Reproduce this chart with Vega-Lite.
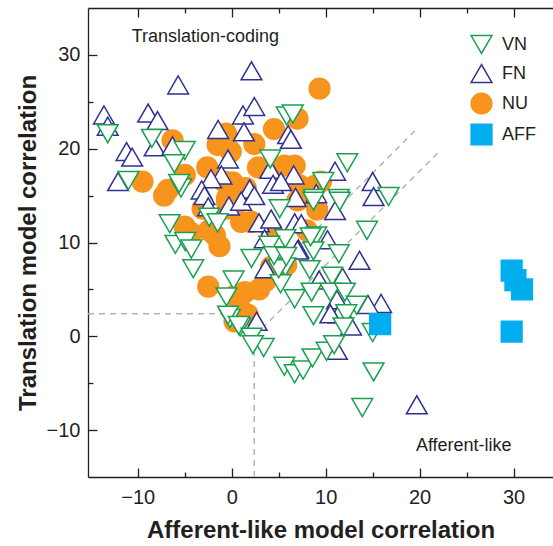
{
  "$schema": "https://vega.github.io/schema/vega-lite/v6.json",
  "autosize": "none",
  "padding": {"left": 88, "top": 8, "right": 0, "bottom": 69},
  "width": 465,
  "height": 469,
  "config": {"view": {"stroke": null}, "font": "Liberation Sans"},
  "datasets": {
    "guides": [
      {"x": -15.3, "y": 2.4, "x2": 2.4, "y2": 2.4},
      {"x": 2.4, "y": -15, "x2": 2.4, "y2": 2.4},
      {"x": 0, "y": 2.4, "x2": 19.8, "y2": 22.2},
      {"x": 2.4, "y": 0, "x2": 22.3, "y2": 19.9}
    ],
    "notes": [
      {"x": -2.8, "y": 31.9, "t": "Translation-coding"},
      {"x": 24.7, "y": -11.7, "t": "Afferent-like"}
    ],
    "pts": [
      {"s": "NU", "x": 9.35, "y": 26.4}, {"s": "NU", "x": 7.0, "y": 23.2}, {"s": "NU", "x": 4.5, "y": 22.1},
      {"s": "NU", "x": -6.3, "y": 20.9}, {"s": "NU", "x": -1.5, "y": 20.4}, {"s": "NU", "x": -0.1, "y": 19.7},
      {"s": "NU", "x": -0.6, "y": 21.6}, {"s": "NU", "x": 2.4, "y": 20.5}, {"s": "NU", "x": 2.8, "y": 18.0},
      {"s": "NU", "x": 5.6, "y": 18.2}, {"s": "NU", "x": 6.7, "y": 18.2}, {"s": "NU", "x": -2.6, "y": 18.0},
      {"s": "NU", "x": -9.5, "y": 16.5}, {"s": "NU", "x": -6.8, "y": 15.6}, {"s": "NU", "x": -5.0, "y": 17.2},
      {"s": "NU", "x": -0.8, "y": 16.5}, {"s": "NU", "x": 0.1, "y": 16.4}, {"s": "NU", "x": 1.5, "y": 15.8},
      {"s": "NU", "x": 7.2, "y": 16.1}, {"s": "NU", "x": 9.5, "y": 16.5}, {"s": "NU", "x": 8.8, "y": 16.0},
      {"s": "NU", "x": -0.5, "y": 14.7}, {"s": "NU", "x": -7.2, "y": 15.0}, {"s": "NU", "x": -3.1, "y": 13.6},
      {"s": "NU", "x": -5.0, "y": 11.7}, {"s": "NU", "x": -4.3, "y": 11.0}, {"s": "NU", "x": -1.8, "y": 10.8},
      {"s": "NU", "x": -1.3, "y": 9.6}, {"s": "NU", "x": -2.5, "y": 5.3}, {"s": "NU", "x": 0.3, "y": 4.3},
      {"s": "NU", "x": 1.4, "y": 4.7}, {"s": "NU", "x": 2.9, "y": 5.0}, {"s": "NU", "x": 3.6, "y": 5.9},
      {"s": "NU", "x": 1.0, "y": 2.8}, {"s": "NU", "x": 0.3, "y": 1.6}, {"s": "NU", "x": 1.7, "y": 2.3},
      {"s": "NU", "x": -0.4, "y": 13.6}, {"s": "NU", "x": 1.0, "y": 12.2}, {"s": "NU", "x": 2.1, "y": 12.2},
      {"s": "NU", "x": 0.3, "y": 14.9}, {"s": "NU", "x": 7.0, "y": 14.5}, {"s": "NU", "x": 4.2, "y": 7.4},
      {"s": "NU", "x": 9.1, "y": 13.5}, {"s": "NU", "x": 4.2, "y": 11.3}, {"s": "NU", "x": -2.4, "y": 11.3},
      {"s": "NU", "x": 5.8, "y": 7.6}, {"s": "NU", "x": 8.0, "y": 11.3}, {"s": "NU", "x": -0.5, "y": 14.3},
      {"s": "FN", "x": 2.1, "y": 28.3}, {"s": "FN", "x": -5.7, "y": 26.8}, {"s": "FN", "x": -13.6, "y": 23.6},
      {"s": "FN", "x": -13.2, "y": 22.4}, {"s": "FN", "x": -8.9, "y": 23.8}, {"s": "FN", "x": -7.9, "y": 23.0},
      {"s": "FN", "x": -8.2, "y": 20.2}, {"s": "FN", "x": -11.2, "y": 19.7}, {"s": "FN", "x": -10.6, "y": 19.1},
      {"s": "FN", "x": -12.1, "y": 16.5}, {"s": "FN", "x": -6.3, "y": 20.3}, {"s": "FN", "x": -1.45, "y": 22.05},
      {"s": "FN", "x": 1.2, "y": 23.6}, {"s": "FN", "x": 2.4, "y": 24.5}, {"s": "FN", "x": 1.3, "y": 21.8},
      {"s": "FN", "x": -0.4, "y": 18.9}, {"s": "FN", "x": -1.1, "y": 17.2}, {"s": "FN", "x": -2.2, "y": 16.8},
      {"s": "FN", "x": -3.2, "y": 15.6}, {"s": "FN", "x": 1.9, "y": 15.7}, {"s": "FN", "x": 4.1, "y": 17.8},
      {"s": "FN", "x": 4.4, "y": 16.2}, {"s": "FN", "x": 6.6, "y": 17.2}, {"s": "FN", "x": 6.0, "y": 21.5},
      {"s": "FN", "x": 6.3, "y": 21.0}, {"s": "FN", "x": 5.25, "y": 16.5}, {"s": "FN", "x": 11.0, "y": 17.6},
      {"s": "FN", "x": 15.0, "y": 16.5}, {"s": "FN", "x": 15.1, "y": 14.9}, {"s": "FN", "x": 9.0, "y": 15.2},
      {"s": "FN", "x": -2.9, "y": 15.0}, {"s": "FN", "x": 6.8, "y": 14.8}, {"s": "FN", "x": -2.5, "y": 13.8},
      {"s": "FN", "x": -0.3, "y": 13.9}, {"s": "FN", "x": 1.0, "y": 14.4}, {"s": "FN", "x": 2.4, "y": 15.0},
      {"s": "FN", "x": 2.9, "y": 12.1}, {"s": "FN", "x": 6.7, "y": 12.1}, {"s": "FN", "x": 4.2, "y": 12.5},
      {"s": "FN", "x": 10.2, "y": 10.3}, {"s": "FN", "x": 11.0, "y": 13.4}, {"s": "FN", "x": 7.1, "y": 9.3},
      {"s": "FN", "x": 3.6, "y": 7.2}, {"s": "FN", "x": 13.6, "y": 8.1}, {"s": "FN", "x": 15.9, "y": 3.5},
      {"s": "FN", "x": 2.65, "y": 1.6}, {"s": "FN", "x": 11.2, "y": 3.9}, {"s": "FN", "x": 11.4, "y": 2.4},
      {"s": "FN", "x": 9.3, "y": 6.0}, {"s": "FN", "x": 11.8, "y": 6.3}, {"s": "FN", "x": 14.5, "y": 3.4},
      {"s": "FN", "x": 19.7, "y": -7.3}, {"s": "FN", "x": 11.2, "y": -1.5}, {"s": "FN", "x": 12.7, "y": 1.1},
      {"s": "FN", "x": 10.5, "y": 2.4}, {"s": "FN", "x": 3.5, "y": 10.4}, {"s": "FN", "x": 7.4, "y": 12.0},
      {"s": "FN", "x": 7.0, "y": 9.2},
      {"s": "VN", "x": -13.2, "y": 21.6}, {"s": "VN", "x": -8.5, "y": 21.1}, {"s": "VN", "x": -5.0, "y": 19.8},
      {"s": "VN", "x": -6.1, "y": 18.4}, {"s": "VN", "x": -11.0, "y": 16.6}, {"s": "VN", "x": -5.4, "y": 15.8},
      {"s": "VN", "x": -5.6, "y": 16.3}, {"s": "VN", "x": 4.1, "y": 18.9}, {"s": "VN", "x": 5.85, "y": 23.5},
      {"s": "VN", "x": 6.5, "y": 23.7}, {"s": "VN", "x": 12.3, "y": 18.5}, {"s": "VN", "x": 9.75, "y": 16.5},
      {"s": "VN", "x": 8.75, "y": 14.7}, {"s": "VN", "x": 11.4, "y": 14.7}, {"s": "VN", "x": 16.7, "y": 14.9},
      {"s": "VN", "x": -2.4, "y": 12.7}, {"s": "VN", "x": -1.5, "y": 12.1}, {"s": "VN", "x": 5.1, "y": 13.6},
      {"s": "VN", "x": 8.7, "y": 14.4}, {"s": "VN", "x": 11.5, "y": 14.4}, {"s": "VN", "x": 14.4, "y": 11.3},
      {"s": "VN", "x": 9.0, "y": 10.7}, {"s": "VN", "x": 5.7, "y": 10.4}, {"s": "VN", "x": 4.0, "y": 9.7},
      {"s": "VN", "x": 8.7, "y": 9.1}, {"s": "VN", "x": 11.4, "y": 8.8}, {"s": "VN", "x": 2.1, "y": 8.3},
      {"s": "VN", "x": 5.5, "y": 8.25}, {"s": "VN", "x": 5.7, "y": 7.4}, {"s": "VN", "x": 8.3, "y": 7.1},
      {"s": "VN", "x": 10.7, "y": 6.4}, {"s": "VN", "x": 5.2, "y": 5.6}, {"s": "VN", "x": 0.2, "y": 6.0},
      {"s": "VN", "x": -0.56, "y": 4.2}, {"s": "VN", "x": 6.7, "y": 4.0}, {"s": "VN", "x": 8.5, "y": 4.7},
      {"s": "VN", "x": 10.5, "y": 4.7}, {"s": "VN", "x": 12.05, "y": 4.7}, {"s": "VN", "x": 13.3, "y": 3.3},
      {"s": "VN", "x": 12.2, "y": 2.4}, {"s": "VN", "x": 8.7, "y": 2.2}, {"s": "VN", "x": 11.9, "y": 1.0},
      {"s": "VN", "x": 15.0, "y": 0.4}, {"s": "VN", "x": -0.2, "y": 1.9}, {"s": "VN", "x": 0.9, "y": 1.0},
      {"s": "VN", "x": -6.6, "y": 12.0}, {"s": "VN", "x": -6.0, "y": 9.8}, {"s": "VN", "x": -4.95, "y": 10.1},
      {"s": "VN", "x": -4.3, "y": 9.3}, {"s": "VN", "x": -4.1, "y": 7.2}, {"s": "VN", "x": 5.0, "y": 7.2},
      {"s": "VN", "x": 8.4, "y": 10.6}, {"s": "VN", "x": 4.5, "y": 8.6}, {"s": "VN", "x": 5.8, "y": 8.5},
      {"s": "VN", "x": 5.6, "y": -3.2}, {"s": "VN", "x": 6.7, "y": -4.0}, {"s": "VN", "x": 7.6, "y": -3.6},
      {"s": "VN", "x": 8.6, "y": -2.3}, {"s": "VN", "x": 10.1, "y": -1.6}, {"s": "VN", "x": 10.9, "y": -0.9},
      {"s": "VN", "x": 15.1, "y": -3.8}, {"s": "VN", "x": 13.9, "y": -7.6}, {"s": "VN", "x": -0.4, "y": 2.25},
      {"s": "VN", "x": 0.75, "y": 1.15}, {"s": "VN", "x": 2.1, "y": -0.1}, {"s": "VN", "x": 3.4, "y": -1.2},
      {"s": "VN", "x": 2.25, "y": -0.9},
      {"s": "AFF", "x": 29.8, "y": 7.0}, {"s": "AFF", "x": 30.2, "y": 6.0}, {"s": "AFF", "x": 30.9, "y": 5.0},
      {"s": "AFF", "x": 29.8, "y": 0.5}, {"s": "AFF", "x": 15.8, "y": 1.3}
    ]
  },
  "layer": [
    {
      "data": {"name": "guides"},
      "mark": {"type": "rule", "color": "#b5b5b5", "strokeWidth": 1.5, "strokeDash": [6, 5]},
      "encoding": {
        "x": {"field": "x", "type": "quantitative", "scale": {"domain": [-15.3, 34.2], "nice": false, "zero": false},
          "axis": {"orient": "bottom", "values": [-10, -5, 0, 5, 10, 15, 20, 25, 30], "title": "Afferent-like model correlation",
            "labelExpr": "datum.value % 10 === 0 ? datum.label : ''", "tickSize": -9,
            "tickDash": {"condition": {"test": "datum.value % 10 !== 0", "value": [5, 30]}, "value": [10, 0]},
            "tickColor": "#231f20", "tickWidth": 1.3, "domainColor": "#231f20", "domainWidth": 1.3,
            "labelFontSize": 20, "labelColor": "#231f20", "labelPadding": 19, "labelFont": "Liberation Sans",
            "titleFontSize": 24, "titleFontWeight": "bold", "titleColor": "#231f20", "titlePadding": 11, "titleFont": "Liberation Sans", "grid": false}},
        "y": {"field": "y", "type": "quantitative", "scale": {"domain": [-15, 35], "nice": false, "zero": false},
          "axis": {"orient": "left", "values": [-10, -5, 0, 5, 10, 15, 20, 25, 30], "title": "Translation model correlation",
            "labelExpr": "datum.value % 10 === 0 ? datum.label : ''", "tickSize": -9,
            "tickDash": {"condition": {"test": "datum.value % 10 !== 0", "value": [5, 30]}, "value": [10, 0]},
            "tickColor": "#231f20", "tickWidth": 1.3, "domainColor": "#231f20", "domainWidth": 1.3,
            "labelFontSize": 20, "labelColor": "#231f20", "labelPadding": 17, "labelFont": "Liberation Sans",
            "titleFontSize": 24, "titleFontWeight": "bold", "titleColor": "#231f20", "titlePadding": 6, "titleFont": "Liberation Sans", "grid": false}},
        "x2": {"field": "x2"},
        "y2": {"field": "y2"}
      }
    },
    {
      "data": {"name": "pts"},
      "mark": {"type": "point", "filled": false, "strokeWidth": 1.5, "opacity": 1},
      "encoding": {
        "x": {"field": "x", "type": "quantitative",
          "axis": {"orient": "top", "values": [-10, -5, 0, 5, 10, 15, 20, 25, 30], "labels": false, "title": null, "tickSize": -9,
            "tickDash": {"condition": {"test": "datum.value % 10 !== 0", "value": [5, 30]}, "value": [10, 0]},
            "tickColor": "#231f20", "tickWidth": 1.3, "domainColor": "#231f20", "domainWidth": 1.3, "grid": false}},
        "y": {"field": "y", "type": "quantitative", "axis": null},
        "shape": {"field": "s", "type": "nominal", "scale": {"domain": ["VN", "FN", "NU", "AFF"], "range": ["triangle-down", "triangle-up", "circle", "square"]},
          "legend": {"title": null, "orient": "none", "legendX": 382, "legendY": 25, "labelFontSize": 18, "labelColor": "#231f20", "labelFont": "Liberation Sans", "labelOffset": 9, "rowPadding": 4, "symbolStrokeWidth": 1.5}},
        "fill": {"field": "s", "type": "nominal", "scale": {"domain": ["VN", "FN", "NU", "AFF"], "range": ["#ffffff", "#ffffff", "#f7941d", "#00aeef"]}},
        "stroke": {"field": "s", "type": "nominal", "scale": {"domain": ["VN", "FN", "NU", "AFF"], "range": ["#18a04f", "#2e3192", "#f7941d", "#00aeef"]}},
        "size": {"field": "s", "type": "nominal", "scale": {"domain": ["VN", "FN", "NU", "AFF"], "range": [430, 430, 215, 150]}}
      }
    },
    {
      "data": {"name": "notes"},
      "mark": {"type": "text", "fontSize": 18, "color": "#231f20", "align": "center", "baseline": "middle", "font": "Liberation Sans"},
      "encoding": {
        "x": {"field": "x", "type": "quantitative", "axis": null},
        "y": {"field": "y", "type": "quantitative", "axis": null},
        "text": {"field": "t"}
      }
    }
  ],
  "resolve": {"axis": {"x": "independent", "y": "independent"}}
}
